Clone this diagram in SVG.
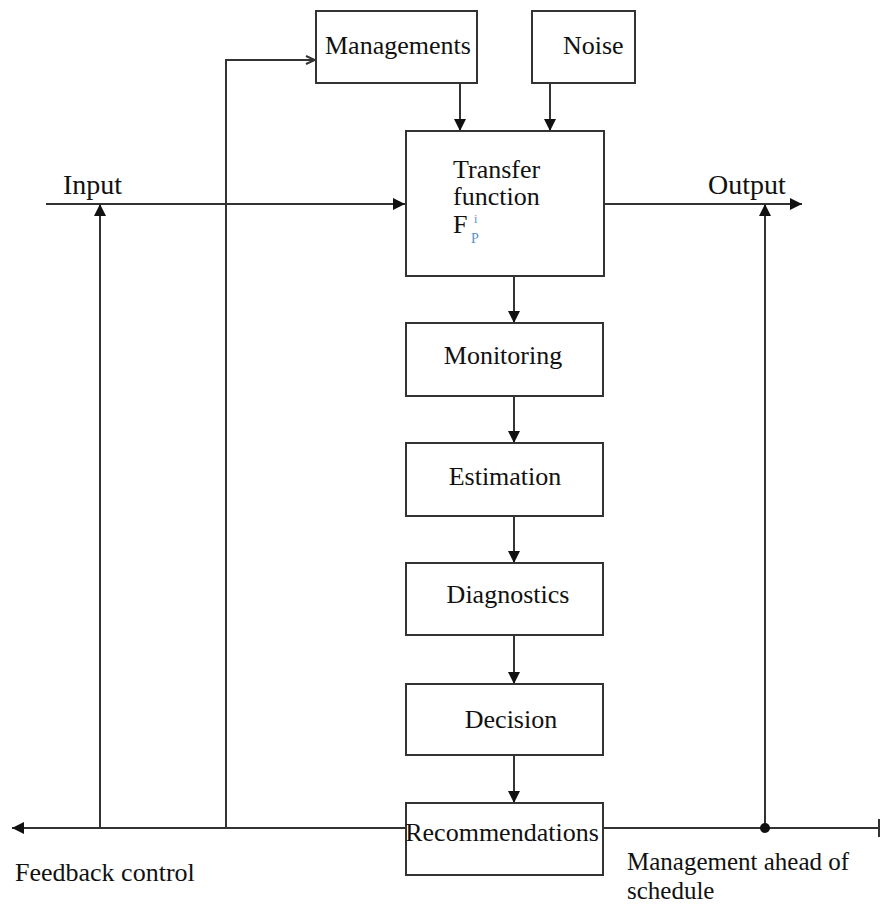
<svg xmlns="http://www.w3.org/2000/svg" width="880" height="904" viewBox="0 0 880 904">
<style>
.box{fill:#fff;stroke:#333;stroke-width:2}
.ln{fill:none;stroke:#333;stroke-width:2}
.t{font-family:"Liberation Serif","Times New Roman",serif;font-size:26px;fill:#111}
.big{font-size:28px}
.sm{font-size:25px}
.ix{font-family:"Liberation Serif","Times New Roman",serif;font-size:12px;fill:#5b8fc9}
.px{font-family:"Liberation Serif","Times New Roman",serif;font-size:14px;fill:#5b8fc9}
</style>
<defs>
<marker id="ah" viewBox="0 0 10 10" refX="10" refY="5" markerWidth="12" markerHeight="12" markerUnits="userSpaceOnUse" orient="auto">
<path d="M0,0 L10,5 L0,10 Z" fill="#111"/>
</marker>
<marker id="oa" viewBox="0 0 10 10" refX="10" refY="5" markerWidth="10" markerHeight="10" markerUnits="userSpaceOnUse" orient="auto">
<path d="M1,1 L10,5 L1,9" fill="none" stroke="#333" stroke-width="2"/>
</marker>
</defs>
<rect width="880" height="904" fill="#fff"/>
<g id="connectors">
<line class="ln" x1="460" y1="83" x2="460" y2="131" marker-end="url(#ah)"/>
<line class="ln" x1="550" y1="83" x2="550" y2="131" marker-end="url(#ah)"/>
<line class="ln" x1="46" y1="204" x2="405" y2="204" marker-end="url(#ah)"/>
<line class="ln" x1="604" y1="204" x2="802" y2="204" marker-end="url(#ah)"/>
<line class="ln" x1="514" y1="276" x2="514" y2="323" marker-end="url(#ah)"/>
<line class="ln" x1="514" y1="396" x2="514" y2="443" marker-end="url(#ah)"/>
<line class="ln" x1="514" y1="516" x2="514" y2="563" marker-end="url(#ah)"/>
<line class="ln" x1="514" y1="635" x2="514" y2="684" marker-end="url(#ah)"/>
<line class="ln" x1="514" y1="755" x2="514" y2="803" marker-end="url(#ah)"/>
<line class="ln" x1="406" y1="828" x2="12" y2="828" marker-end="url(#ah)"/>
<line class="ln" x1="603" y1="828" x2="879" y2="828"/>
<line class="ln" x1="879" y1="819" x2="879" y2="837"/>
<line class="ln" x1="100" y1="828" x2="100" y2="204" marker-end="url(#ah)"/>
<line class="ln" x1="765" y1="828" x2="765" y2="204" marker-end="url(#ah)"/>
<polyline class="ln" points="226,828 226,60 315,60" marker-end="url(#oa)"/>
<circle cx="765" cy="828" r="5" fill="#111"/>
</g>
<g id="managements"><rect class="box" x="316" y="11" width="161" height="72"/><text class="t" x="325" y="54">Managements</text></g>
<g id="noise"><rect class="box" x="532" y="11" width="103" height="72"/><text class="t" x="563" y="54">Noise</text></g>
<g id="transfer"><rect class="box" x="406" y="131" width="198" height="145"/>
<text class="t" x="453" y="178">Transfer</text>
<text class="t" x="453" y="205">function</text>
<text class="t" x="453" y="233">F</text>
<text class="ix" x="474" y="223">i</text>
<text class="px" x="471" y="243">P</text>
</g>
<g id="monitoring"><rect class="box" x="406" y="323" width="197" height="73"/><text class="t" x="503" y="364" text-anchor="middle">Monitoring</text></g>
<g id="estimation"><rect class="box" x="406" y="443" width="197" height="73"/><text class="t" x="505" y="485" text-anchor="middle">Estimation</text></g>
<g id="diagnostics"><rect class="box" x="406" y="563" width="197" height="72"/><text class="t" x="508" y="603" text-anchor="middle">Diagnostics</text></g>
<g id="decision"><rect class="box" x="406" y="684" width="197" height="71"/><text class="t" x="511" y="728" text-anchor="middle">Decision</text></g>
<g id="recommendations"><rect class="box" x="406" y="803" width="197" height="72"/><text class="t" x="502" y="841" text-anchor="middle">Recommendations</text></g>
<g id="labels">
<text class="t big" x="63" y="194">Input</text>
<text class="t big" x="708" y="194">Output</text>
<text class="t" x="15" y="881">Feedback control</text>
<text class="t sm" x="627" y="870">Management ahead of</text>
<text class="t sm" x="627" y="899">schedule</text>
</g>
</svg>
